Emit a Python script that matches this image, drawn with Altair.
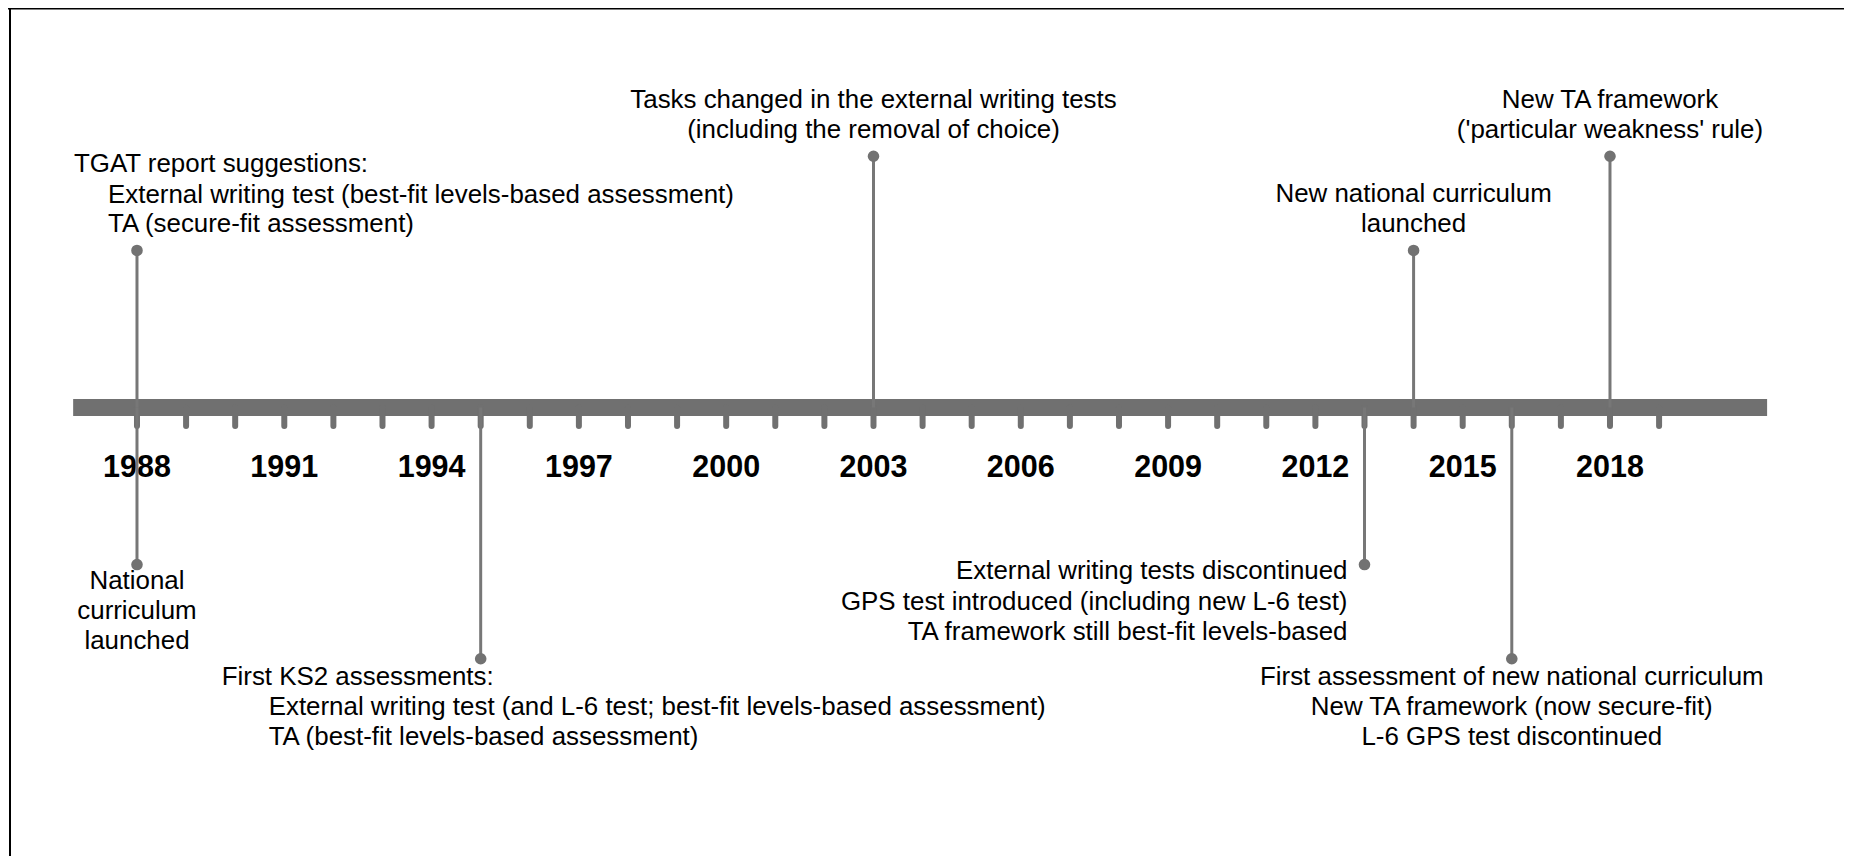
import altair as alt
import pandas as pd

# ---------------- data ----------------
TICK_YEARS = list(range(1988, 2020))
LABEL_YEARS = [1988, 1991, 1994, 1997, 2000, 2003, 2006, 2009, 2012, 2015, 2018]
BAR_START = 1986.7
BAR_END = 2021.2

EVENT_YEARS = [1988, 1988, 1995, 2003, 2013, 2014, 2016, 2018]
EVENT_LEVELS = [5, -5, -8, 8, -5, 5, -8, 8]
EVENT_HEADS = [
    ["TGAT report suggestions:"],
    ["National", "curriculum", "launched"],
    ["First KS2 assessments:"],
    ["Tasks changed in the external writing tests", "(including the removal of choice)"],
    ["External writing tests discontinued",
     "GPS test introduced (including new L-6 test)",
     "TA framework still best-fit levels-based"],
    ["New national curriculum", "launched"],
    ["First assessment of new national curriculum",
     "New TA framework (now secure-fit)",
     "L-6 GPS test discontinued"],
    ["New TA framework", "('particular weakness' rule)"],
]
EVENT_BODIES = [
    ["External writing test (best-fit levels-based assessment)", "TA (secure-fit assessment)"],
    [],
    ["External writing test (and L-6 test; best-fit levels-based assessment)",
     "TA (best-fit levels-based assessment)"],
    [], [], [], [], [],
]

# ---------------- styles ----------------
W, H = 1836, 848
X_DOMAIN = [1985.373, 2022.766]
Y_DOMAIN = [-14.28, 12.72]
FONT = "Liberation Sans"
TEXT_SIZE = 25.9
GREY = "#707070"
TICK_DEPTH = 0.59

# align, head dx, body dx, dy, line height, head-to-body gap
LAYOUT = [
    ("left", -63, -29, -13, 29, 31),
    ("center", 0, 0, 4, 30, 30),
    ("left", -259, -212, 6, 30, 30),
    ("center", 0, 0, -13, 30, 30),
    ("right", -17, -17, -5.7, 30.8, 30.8),
    ("center", 0, 0, -13, 30, 30),
    ("center", 0, 0, 6, 30, 30),
    ("center", 0, 0, -13, 30, 30),
]

xs = alt.Scale(domain=X_DOMAIN, nice=False, zero=False)
ys = alt.Scale(domain=Y_DOMAIN, nice=False, zero=False)


def X(field="year"):
    return alt.X(f"{field}:Q", scale=xs, axis=None)


def Y(field="level"):
    return alt.Y(f"{field}:Q", scale=ys, axis=None)


bar_df = pd.DataFrame({"year": [BAR_START], "year2": [BAR_END], "level": [0]})
bar = alt.Chart(bar_df).mark_rule(color=GREY, strokeWidth=17).encode(
    x=X(), x2="year2:Q", y=Y()
)

tick_df = pd.DataFrame({"year": TICK_YEARS, "level": [0] * len(TICK_YEARS)})
ticks = alt.Chart(tick_df).mark_rule(color=GREY, strokeWidth=6, strokeCap="round").encode(
    x=X(), y=Y(), y2=alt.datum(-TICK_DEPTH)
)

lab_df = pd.DataFrame({"year": LABEL_YEARS, "level": [0] * len(LABEL_YEARS),
                       "label": [str(y) for y in LABEL_YEARS]})
year_labels = alt.Chart(lab_df).mark_text(
    font=FONT, fontSize=30.5, fontWeight="bold", color="black",
    baseline="alphabetic", align="center", dy=69
).encode(x=X(), y=Y(), text="label:N")

ev_df = pd.DataFrame({"year": EVENT_YEARS, "level": EVENT_LEVELS,
                      "base": [0] * len(EVENT_YEARS)})
stems = alt.Chart(ev_df).mark_rule(color="#777777", strokeWidth=3).encode(
    x=X(), y=Y(), y2="base:Q"
)
dots = alt.Chart(ev_df).mark_point(filled=True, size=135, color="#727272", opacity=1).encode(
    x=X(), y=Y()
)

text_layers = []
for i, (yr, lvl) in enumerate(zip(EVENT_YEARS, EVENT_LEVELS)):
    align, hdx, bdx, dy, lh, gap = LAYOUT[i]
    head, body = EVENT_HEADS[i], EVENT_BODIES[i]
    if lvl > 0:
        baseline = "bottom"
        if body:
            body_dy = dy - (len(body) - 1) * lh
            head_dy = body_dy - gap - (len(head) - 1) * lh
        else:
            body_dy = 0
            head_dy = dy - (len(head) - 1) * lh
    else:
        baseline = "top"
        head_dy = dy
        body_dy = dy + (len(head) - 1) * lh + gap
    for lines, dx, ddy in ((head, hdx, head_dy), (body, bdx, body_dy)):
        if not lines:
            continue
        df = pd.DataFrame({"year": [yr], "level": [lvl], "label": ["\n".join(lines)]})
        text_layers.append(
            alt.Chart(df).mark_text(
                font=FONT, fontSize=TEXT_SIZE, color="black", align=align,
                baseline=baseline, dx=dx, dy=ddy, lineBreak="\n", lineHeight=lh
            ).encode(x=X(), y=Y(), text="label:N")
        )

frame_df = pd.DataFrame({"k": [0]})
top_line = alt.Chart(frame_df).mark_rule(color="black", strokeWidth=2).encode(
    x=alt.value(0), x2=alt.value(W), y=alt.value(0.5)
)
left_line = alt.Chart(frame_df).mark_rule(color="black", strokeWidth=2).encode(
    x=alt.value(2), y=alt.value(0), y2=alt.value(H)
)

chart = alt.layer(
    bar, ticks, year_labels, stems, dots, *text_layers, top_line, left_line
).properties(
    width=W, height=H, padding=0,
    autosize=alt.AutoSizeParams(type="none"),
    background="white",
).configure_view(stroke=None)

chart.save("out.html", embed_options={"renderer": "svg", "actions": False})
